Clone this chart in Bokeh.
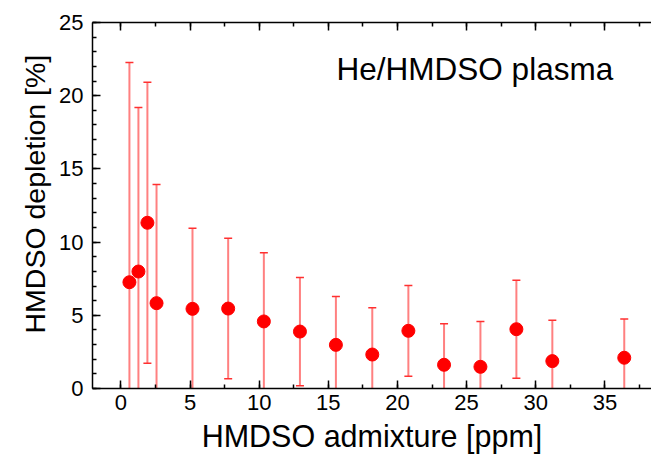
from bokeh.plotting import figure
from bokeh.models import (Range1d, LinearAxis, SingleIntervalTicker, Label, Title,
                          ColumnDataSource, CustomJSTickFormatter)
from bokeh.embed import file_html
from bokeh.resources import INLINE

# Data
admixture = [0.62, 1.27, 1.92, 2.58, 5.18, 7.76, 10.34, 12.95, 15.55, 18.18,
             20.79, 23.37, 26.0, 28.6, 31.2, 36.4]
depletion = [7.26, 7.99, 11.32, 5.83, 5.44, 5.46, 4.58, 3.89, 2.98, 2.32,
             3.94, 1.62, 1.48, 4.05, 1.87, 2.10]
error = [15.0, 11.2, 9.6, 8.1, 5.5, 4.8, 4.7, 3.7, 3.3, 3.2,
         3.1, 2.8, 3.1, 3.35, 2.8, 2.65]

x_label = "HMDSO admixture [ppm]"
y_label = "HMDSO depletion [%]"
annotation = "He/HMDSO plasma"

upper = [d + e for d, e in zip(depletion, error)]
lower = [d - e for d, e in zip(depletion, error)]
src = ColumnDataSource(dict(x=admixture, y=depletion, up=upper, lo=lower))

FONT = "Liberation Sans"

p = figure(width=651, height=455, output_backend="svg", toolbar_location=None,
           x_range=Range1d(-2.05, 38.37), y_range=Range1d(0, 25),
           min_border_left=92, min_border_right=0, min_border_top=22,
           min_border_bottom=67, outline_line_color=None,
           background_fill_color="white", border_fill_color="white")
p.xgrid.visible = False
p.ygrid.visible = False

xt = SingleIntervalTicker(interval=5, num_minor_ticks=2)
yt = SingleIntervalTicker(interval=5, num_minor_ticks=5)
p.xaxis.ticker = xt
p.yaxis.ticker = yt

for ax in (p.xaxis[0], p.yaxis[0]):
    ax.axis_line_width = 1.5
    ax.axis_line_color = "black"
    ax.major_tick_line_width = 1.5
    ax.minor_tick_line_width = 1.5
    ax.major_tick_in = 8
    ax.major_tick_out = 0
    ax.minor_tick_in = 4
    ax.minor_tick_out = 0
    ax.major_label_text_font = FONT
    ax.major_label_text_font_size = "22px"
    ax.major_label_text_color = "black"
    ax.axis_label_text_font = FONT
    ax.axis_label_text_font_size = "30.5px"
    ax.axis_label_text_font_style = "normal"
    ax.axis_label_text_color = "black"

p.xaxis.axis_label = x_label
p.xaxis.major_label_standoff = 6
p.xaxis.axis_label_standoff = 6
p.yaxis.major_label_standoff = 9

top = LinearAxis(ticker=xt, formatter=CustomJSTickFormatter(code="return ''"),
                 major_label_standoff=0,
                 axis_line_width=1.5, major_tick_line_width=1.5, minor_tick_line_width=1.5,
                 major_tick_in=8, major_tick_out=0, minor_tick_in=4, minor_tick_out=0)
p.add_layout(top, "above")

# y-axis title: rotated, starting a little above the frame bottom as in the reference
p.add_layout(Title(text=y_label, align="left", offset=55, text_font=FONT,
                   text_font_size="28.5px", text_font_style="normal",
                   text_color="black", vertical_align="middle", standoff=10), "left")

# error bars
p.segment(x0="x", y0="lo", x1="x", y1="up", source=src,
          line_color="#ff8080", line_width=2)
p.scatter(x="x", y="up", source=src, marker="dash", size=8,
          line_color="#ff3030", line_width=1.5)
p.scatter(x="x", y="lo", source=src, marker="dash", size=8,
          line_color="#ff3030", line_width=1.5)
# points
p.scatter(x="x", y="y", source=src, marker="circle", size=13,
          fill_color="#ff0000", line_color="#ff0000")

p.add_layout(Label(x=15.6, y=21.85, text=annotation, text_font=FONT,
                   text_font_size="31.5px", text_color="black",
                   text_baseline="alphabetic"))

open("out.html", "w").write(file_html(p, INLINE))
